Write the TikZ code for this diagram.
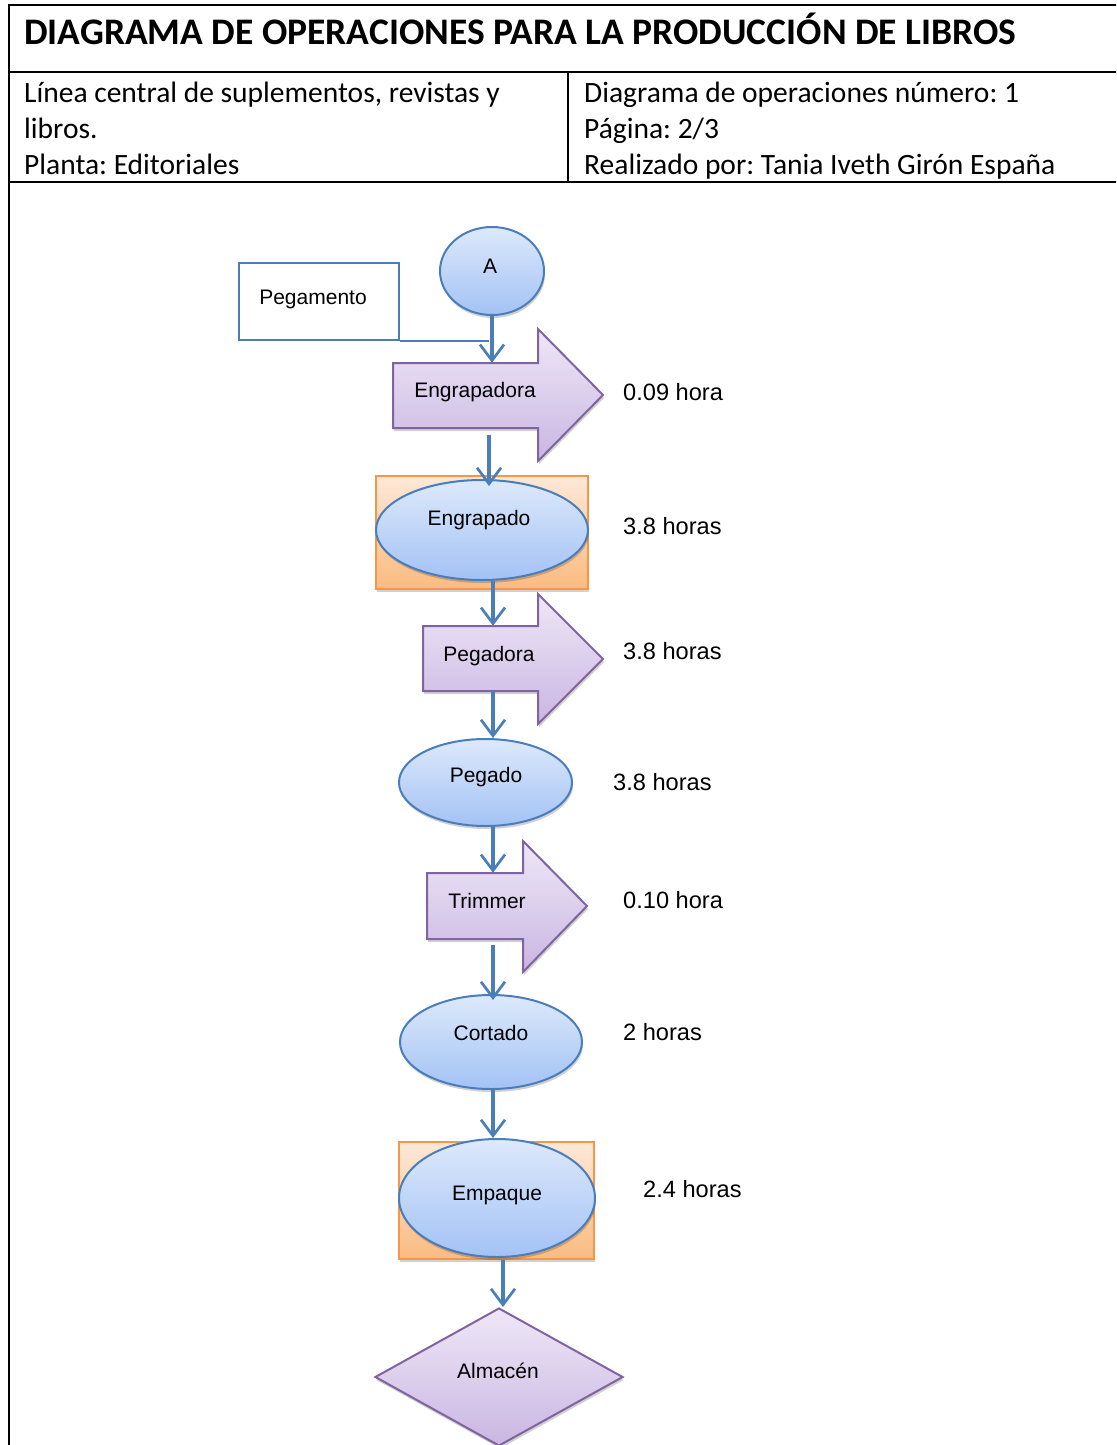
\documentclass[tikz,border=0pt]{standalone}
\usepackage{fontspec}
\setmainfont{Carlito}
\newfontfamily\arialf{Liberation Sans}
\usetikzlibrary{shapes.geometric,arrows.meta,shadows,calc}
\definecolor{connc}{HTML}{4A7EBB}
\definecolor{ovalline}{HTML}{4A7EBB}
\definecolor{ovaltop}{HTML}{DDE9FB}
\definecolor{ovalbot}{HTML}{A3C2F5}
\definecolor{orline}{HTML}{F79646}
\definecolor{ortop}{HTML}{FDE8D8}
\definecolor{orbot}{HTML}{FBBB80}
\definecolor{puline}{HTML}{8064A2}
\definecolor{putop}{HTML}{EEE7F7}
\definecolor{pubot}{HTML}{CAB6E2}
\frenchspacing
\begin{document}
\begin{tikzpicture}[x=1pt,y=-1pt,
  tab/.style={line width=2pt,draw=black},
  mysh/.style={drop shadow={shadow xshift=1pt,shadow yshift=-3pt,opacity=0.18,fill=black}},
  conn/.style={draw=connc,line width=3.1pt,-{Straight Barb[length=16pt,width=24pt,line width=2.7pt]}},
  oval/.style={ellipse,draw=ovalline,line width=2pt,top color=ovaltop,bottom color=ovalbot,inner sep=0pt,mysh},
  orbox/.style={rectangle,draw=orline,line width=2pt,top color=ortop,bottom color=orbot,inner sep=0pt,mysh},
  purp/.style={draw=puline,line width=2pt,top color=putop,bottom color=pubot,line join=miter,mysh},
  anchorbox/.style={rectangle,inner sep=0pt,draw=none},
  lbl/.style={font=\arialf\fontsize{21}{25}\selectfont,inner sep=0pt,anchor=base},
  tlbl/.style={font=\arialf\fontsize{23.6}{28}\selectfont,inner sep=0pt,anchor=base west},
  hd/.style={font=\fontsize{29.5}{35}\selectfont,inner sep=0pt,anchor=base west}
]
\useasboundingbox (0,0) rectangle (1116,1445);
\clip (0,0) rectangle (1116,1445);
\fill[white] (0,0) rectangle (1116,1445);

% table frame
\draw[tab] (1130,5) -- (9,5) -- (9,1460);
\draw[tab] (9,72) -- (1130,72);
\draw[tab] (9,182) -- (1130,182);
\draw[tab] (568,72) -- (568,182);

\node[font=\bfseries\fontsize{37.5}{44}\selectfont,inner sep=0pt,anchor=base west] (title) at (24,45) {DIAGRAMA DE OPERACIONES PARA LA PRODUCCIÓN DE LIBROS};
\node[hd] (l1) at (24,102) {Línea central de suplementos, revistas y};
\node[hd] (l2) at (24,138) {libros.};
\node[hd] (l3) at (24,174) {Planta: Editoriales};
\node[hd] (r1) at (584,102) {Diagrama de operaciones número: 1};
\node[hd] (r2) at (584,138) {Página: 2/3};
\node[hd] (r3) at (584,174) {Realizado por: Tania Iveth Girón España};

% Pegamento
\node[rectangle,draw=ovalline,line width=1.6pt,minimum width=160,minimum height=77,inner sep=0pt] (peg) at (319,301.5) {};
% A
\node[oval,minimum width=104,minimum height=88] (nA) at (492,271) {};
\draw[ovalline,line width=1.6pt] (peg.south east) -- ([xshift=-3]peg.south east -| nA.south);

% Engrapadora
\path[purp] (393,363) -- (538,363) -- (538,329) -- (603,395) -- (538,461) -- (538,428) -- (393,428) -- cycle;
\node[anchorbox,minimum width=145,minimum height=65] (ar1) at (465.5,395.5) {};

% Engrapado
\node[orbox,minimum width=212,minimum height=113] (eg) at (482,532.5) {};
\node[oval,minimum width=212,minimum height=100] (ego) at (482,530) {};

% Pegadora
\path[purp] (423,626) -- (538,626) -- (538,594) -- (603,659) -- (538,724) -- (538,691) -- (423,691) -- cycle;
\node[anchorbox,minimum width=115,minimum height=65] (ar2) at (480.5,658.5) {};

% Pegado
\node[oval,minimum width=173,minimum height=87] (pg) at (485.5,782.5) {};

% Trimmer
\path[purp] (427,873) -- (523,873) -- (523,841) -- (587,906) -- (523,972) -- (523,939) -- (427,939) -- cycle;
\node[anchorbox,minimum width=96,minimum height=66] (ar3) at (475,906) {};

% Cortado
\node[oval,minimum width=182,minimum height=94] (ct) at (491,1042) {};

% Empaque
\node[orbox,minimum width=195,minimum height=117] (emb) at (496.5,1200.5) {};
\node[oval,minimum width=196,minimum height=118] (emo) at (497,1198) {};

% Almacen
\node[diamond,purp,minimum width=248,minimum height=138,inner sep=0pt] (al) at (499,1377) {};

% connectors
\draw[conn] (nA.south) -- (nA.south |- ar1.north);
\draw[conn] ([shift={(23.5,7)}]ar1.south) -- ([shift={(23.5,7)}]ar1.south |- ego.north);
\draw[conn] ([xshift=11]ego.south) -- ([xshift=11]ego.south |- ar2.north);
\draw[conn] ([xshift=12.5]ar2.south) -- ([xshift=12.5]ar2.south |- pg.north);
\draw[conn] ([xshift=7.5]pg.south) -- ([xshift=7.5]pg.south |- ar3.north);
\draw[conn] ([shift={(18,6)}]ar3.south) -- ([shift={(18,6)}]ar3.south |- ct.north);
\draw[conn] ([xshift=2]ct.south) -- ([xshift=2]ct.south |- emo.north);
\draw[conn] ([xshift=6.5]emb.south) -- ([xshift=6.5]emb.south |- al.north);

% labels
\node[lbl] (tpeg) at (313,304) {Pegamento};
\node[lbl] (tA) at (490,273) {A};
\node[lbl] (t1) at (475,397) {Engrapadora};
\node[tlbl] (h1) at (623,400.5) {0.09 hora};
\node[lbl] (t2) at (479,525) {Engrapado};
\node[tlbl] (h2) at (623,534) {3.8 horas};
\node[lbl] (t3) at (489,661) {Pegadora};
\node[tlbl] (h3) at (623,659) {3.8 horas};
\node[lbl] (t4) at (486,782) {Pegado};
\node[tlbl] (h4) at (613,790) {3.8 horas};
\node[tlbl] (h5) at (623,908) {0.10 hora};
\node[lbl] (t5) at (487,908) {Trimmer};
\node[lbl] (t6) at (491,1040) {Cortado};
\node[tlbl] (h6) at (623,1040) {2 horas};
\node[lbl] (t7) at (497,1200) {Empaque};
\node[tlbl] (h7) at (643,1197) {2.4 horas};
\node[lbl] (t8) at (498,1378) {Almacén};
\end{tikzpicture}
\end{document}
